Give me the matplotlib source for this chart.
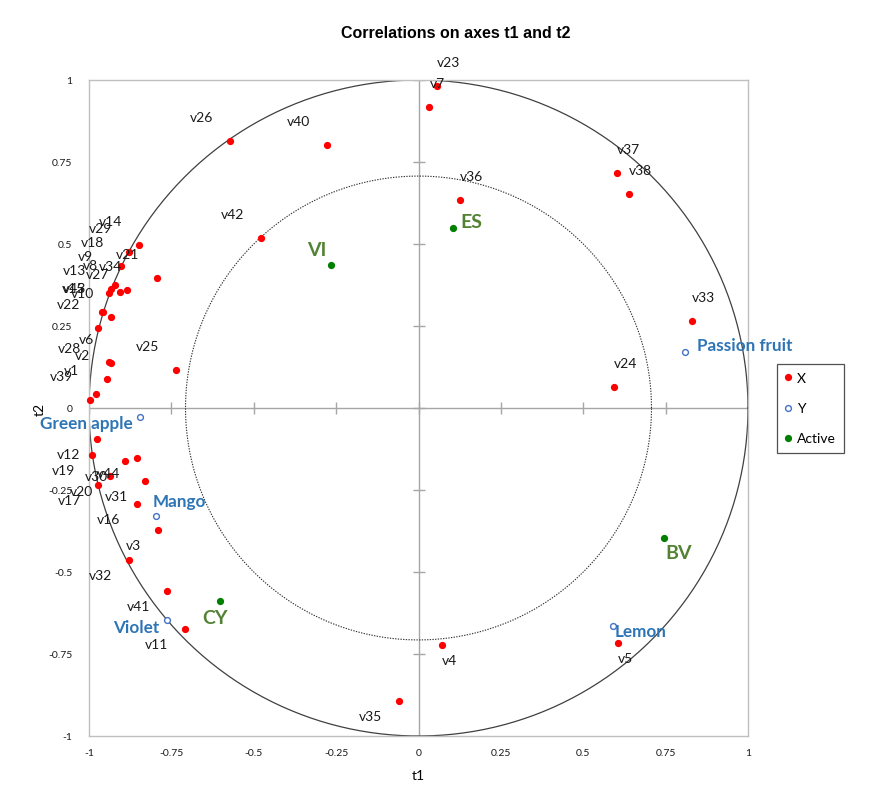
import matplotlib
matplotlib.use("Agg")
import matplotlib.pyplot as plt
import numpy as np

plt.rcParams['font.family'] = ['Lato', 'DejaVu Sans']

# active variables (X)
x_names = ['v1', 'v2', 'v3', 'v4', 'v5', 'v6', 'v7', 'v8', 'v9', 'v10',
           'v11', 'v12', 'v13', 'v14', 'v15', 'v16', 'v17', 'v18', 'v19', 'v20',
           'v21', 'v22', 'v23', 'v24', 'v25', 'v26', 'v27', 'v28', 'v29', 'v30',
           'v31', 'v32', 'v33', 'v34', 'v35', 'v36', 'v37', 'v38', 'v39', 'v40',
           'v41', 'v42', 'v43', 'v44']
x_t1 = [-0.979, -0.945, -0.790, 0.070, 0.606, -0.932, 0.033, -0.932, -0.921, -0.932,
        -0.709, -0.976, -0.940, -0.848, -0.960, -0.854, -0.974, -0.903, -0.990, -0.936,
        -0.795, -0.974, 0.057, 0.593, -0.735, -0.573, -0.905, -0.938, -0.879, -0.891,
        -0.831, -0.878, 0.831, -0.884, -0.058, 0.125, 0.601, 0.638, -0.998, -0.279,
        -0.763, -0.477, -0.958, -0.854]
x_t2 = [0.043, 0.089, -0.373, -0.723, -0.716, 0.137, 0.919, 0.363, 0.375, 0.278,
        -0.674, -0.094, 0.351, 0.498, 0.292, -0.293, -0.235, 0.434, -0.143, -0.206,
        0.397, 0.244, 0.981, 0.063, 0.116, 0.814, 0.354, 0.141, 0.477, -0.162,
        -0.222, -0.462, 0.264, 0.360, -0.894, 0.633, 0.716, 0.651, 0.024, 0.803,
        -0.559, 0.518, 0.294, -0.151]

# supplementary variables (Y)
y_names = ['Green apple', 'Mango', 'Violet', 'Lemon', 'Passion fruit']
y_t1 = [-0.846, -0.798, -0.763, 0.589, 0.810]
y_t2 = [-0.028, -0.329, -0.647, -0.664, 0.171]

# active observations
act_names = ['ES', 'VI', 'CY', 'BV']
act_t1 = [0.105, -0.266, -0.601, 0.746]
act_t2 = [0.550, 0.437, -0.587, -0.397]

ticks = [-1, -0.75, -0.5, -0.25, 0, 0.25, 0.5, 0.75, 1]
tick_labels = ['-1', '-0.75', '-0.5', '-0.25', '0', '0.25', '0.5', '0.75', '1']

# label nudges (points) where the chart moved labels off the usual spot
nudge = {'v9': (-15.8, 20.7), 'v8': (-9.6, 17.5), 'v13': (-16.5, 16.8),
         'v34': (-4.0, 17.5), 'v27': (-8.0, 13.0), 'v28': (-20.5, 9.9)}
y_lab = {'Green apple': ('right', -5, -4.3), 'Mango': ('left', -2.2, 10.8),
         'Violet': ('right', -5.8, -5), 'Lemon': ('left', 1.4, -3.6),
         'Passion fruit': ('left', 8.6, 5)}
act_lab = {'ES': ('left', 5, 4.3), 'VI': ('right', -2.9, 10.6),
           'CY': ('center', -3.8, -12), 'BV': ('left', 0.7, -10.6)}

fig = plt.figure(figsize=(8.86, 8.12), dpi=100)
ax = fig.add_axes([89/886, 75/812, 659/886, 656/812])

ax.set_xlim(-1, 1)
ax.set_ylim(-1, 1)

# circles
th = np.linspace(0, 2*np.pi, 400)
ax.plot(np.cos(th), np.sin(th), color='#404040', lw=0.9, zorder=2)
r = np.sqrt(0.5)
ax.plot(r*np.cos(th), r*np.sin(th), color='#303030', lw=0.8, ls=(0, (1.2, 1.2)), zorder=2)

# axes through zero with crossing ticks
ax.axhline(0, color='#a6a6a6', lw=1, zorder=1)
ax.axvline(0, color='#a6a6a6', lw=1, zorder=1)
ax.plot(ticks, [0]*len(ticks), ls='none', marker='|', ms=8, mew=1, color='#a6a6a6', zorder=1)
ax.plot([0]*len(ticks), ticks, ls='none', marker='_', ms=8, mew=1, color='#a6a6a6', zorder=1)

ax.set_xticks(ticks)
ax.set_xticklabels(tick_labels)
ax.set_yticks(ticks)
ax.set_yticklabels(tick_labels)
ax.tick_params(length=0, labelsize=7.5, colors='#1a1a1a')
ax.tick_params(axis='x', pad=9)
ax.tick_params(axis='y', pad=12)
for s in ax.spines.values():
    s.set_color('#bfbfbf')
    s.set_linewidth(1)

# points
ax.plot(x_t1, x_t2, ls='none', marker='o', ms=4.2, color='#ff0000', mec='#ff0000',
        label='X', zorder=4, clip_on=False)
ax.plot(y_t1, y_t2, ls='none', marker='o', ms=4.2, mfc='white', mec='#4472c4', mew=1,
        label='Y', zorder=4)
ax.plot(act_t1, act_t2, ls='none', marker='o', ms=4.2, color='#008000',
        label='Active', zorder=4)

# labels for X
for n, a, b in zip(x_names, x_t1, x_t2):
    if n in nudge:
        dx, dy = nudge[n]
        ha = 'right'
    else:
        ha = 'left' if a > 0 else 'right'
        dx = 0 if a > 0 else -12.2
        dy = 17.3 if b > 0 else -10.8
    ax.annotate(n, (a, b), xytext=(dx, dy), textcoords='offset points',
                ha=ha, va='center', fontsize=10, color='#1a1a1a', zorder=5,
                annotation_clip=False)

for n, a, b in zip(y_names, y_t1, y_t2):
    ha, dx, dy = y_lab[n]
    ax.annotate(n, (a, b), xytext=(dx, dy), textcoords='offset points',
                ha=ha, va='center', fontsize=12.3, fontweight='bold',
                color='#2e75b6', zorder=5, annotation_clip=False)

for n, a, b in zip(act_names, act_t1, act_t2):
    ha, dx, dy = act_lab[n]
    ax.annotate(n, (a, b), xytext=(dx, dy), textcoords='offset points',
                ha=ha, va='center', fontsize=14, fontweight='bold',
                color='#548235', zorder=5)

ax.set_xlabel('t1', fontsize=10, labelpad=8)
ax.set_ylabel('t2', fontsize=10, labelpad=2)

fig.text(456/886, 1 - 33/812, 'Correlations on axes t1 and t2', ha='center', va='center',
         fontsize=11.5, fontweight='bold', family=['Liberation Sans', 'DejaVu Sans'])

leg = fig.legend(loc='upper left', bbox_to_anchor=(777/886, 1 - 365/812),
                 borderaxespad=0, fontsize=10, frameon=True, fancybox=False,
                 handlelength=0.4, handletextpad=0.45, labelspacing=1.3,
                 borderpad=0.6, markerscale=1)
leg.get_frame().set_edgecolor('#262626')
leg.get_frame().set_linewidth(0.9)

fig.savefig('out.png', dpi=100)
